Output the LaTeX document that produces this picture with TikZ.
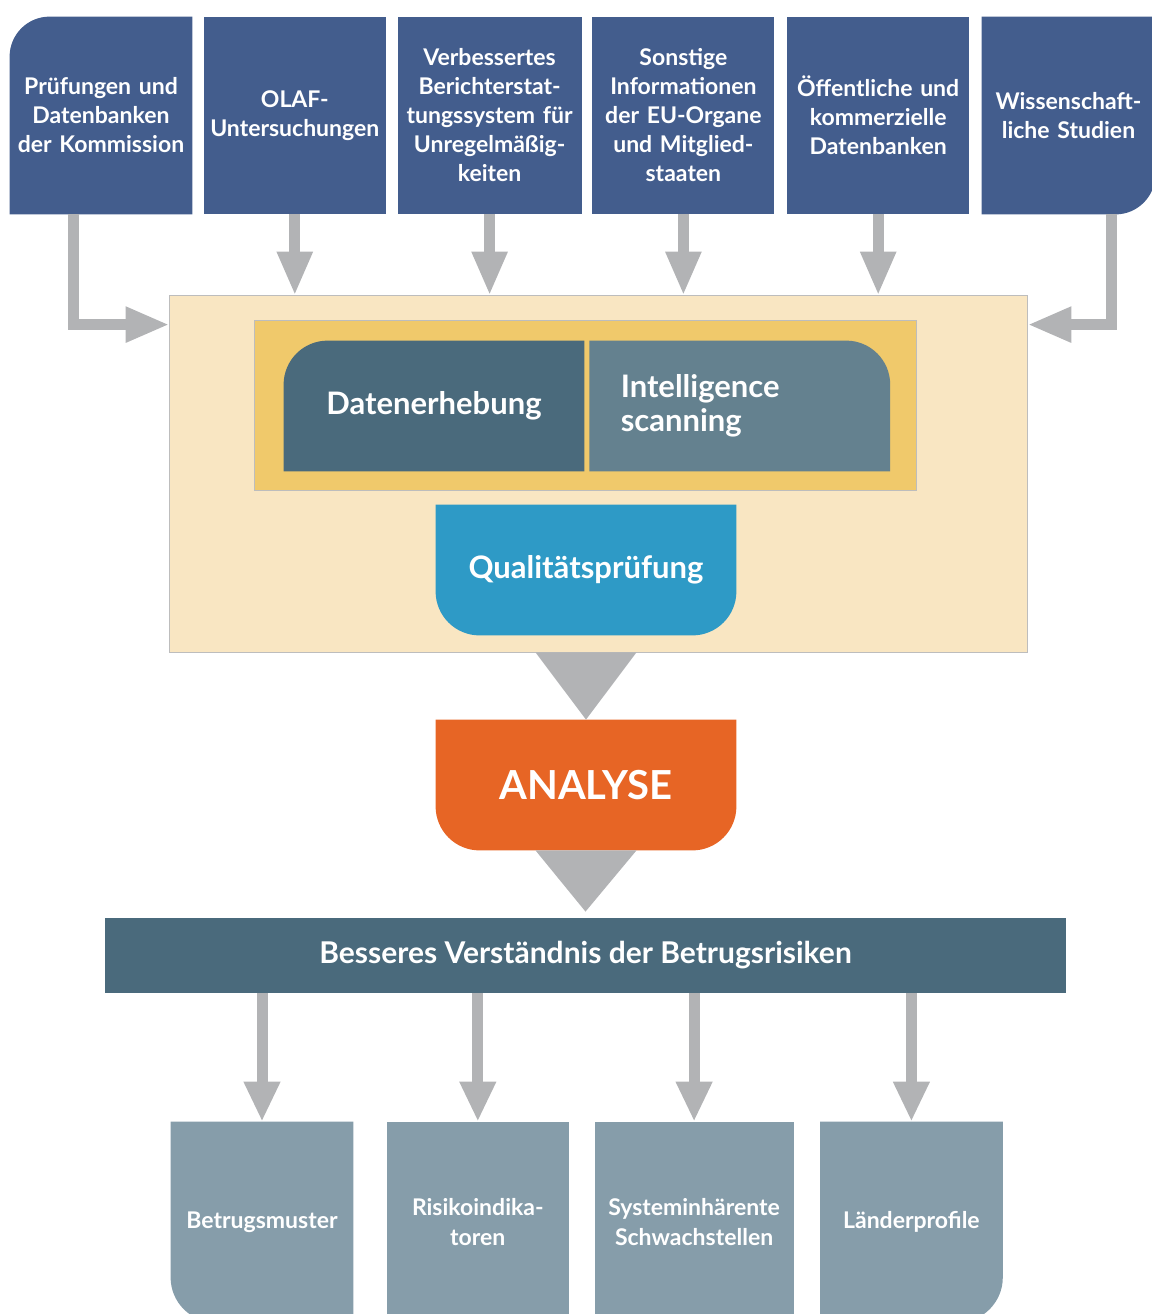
\documentclass[tikz,border=0pt]{standalone}
\usepackage{fontspec}
\setmainfont{Lato}
\usetikzlibrary{positioning}
\usetikzlibrary{arrows.meta}
\usetikzlibrary{backgrounds}
\definecolor{srcblue}{HTML}{435D8D}
\definecolor{arrowgrey}{HTML}{B2B3B5}
\definecolor{framecream}{HTML}{F9E6C2}
\definecolor{framegold}{HTML}{F0C96B}
\definecolor{slatedark}{HTML}{4A6A7C}
\definecolor{slatemid}{HTML}{64818F}
\definecolor{qualiblue}{HTML}{2E9AC6}
\definecolor{anaorange}{HTML}{E76525}
\definecolor{outgrey}{HTML}{869DAA}
\definecolor{edgegrey}{HTML}{BDBDBD}

\begin{document}
\begin{tikzpicture}[x=0.5pt,y=0.5pt]
\tikzset{srcbox/.style={rectangle,minimum width=91pt,minimum height=98.5pt,inner sep=0pt,text width=88pt,align=center,text=white,fill=srcblue,font=\fontsize{11.5}{14.5}\selectfont\bfseries}}
\tikzset{stepbox/.style={rectangle,minimum width=150pt,minimum height=65pt,inner sep=0pt,align=center,text=white,font=\fontsize{15.5}{17}\selectfont\bfseries}}
\tikzset{outbox/.style={rectangle,minimum width=91pt,minimum height=100pt,inner sep=0pt,text width=88pt,align=center,text=white,fill=outgrey,font=\fontsize{11.5}{15}\selectfont\bfseries}}
\tikzset{flow/.style={draw=arrowgrey,line width=5.5pt,-{Triangle[length=22pt,width=16.5pt]}}}
\tikzset{flowthin/.style={draw=arrowgrey,line width=5.5pt,-{Triangle[length=20pt,width=17pt]}}}
\useasboundingbox (0,0) rectangle (1152,-1314);
% sources
\node[srcbox,fill=none] (src1) at (101,-115.5) {Prüfungen und\\Datenbanken\\der Kommission};
\node[srcbox,right=5.5pt of src1] (src2) {OLAF-\\Untersuchungen};
\node[srcbox,right=5.5pt of src2,minimum width=92pt] (src3) {Verbessertes\\Berichterstat-\\tungssystem für\\Unregelmäßig-\\keiten};
\node[srcbox,right=5pt of src3] (src4) {Sonstige\\Informationen\\der EU-Organe\\und Mitglied-\\staaten};
\node[srcbox,right=6pt of src4] (src5) {Öffentliche und\\kommerzielle\\Datenbanken};
\node[srcbox,fill=none,right=6pt of src5,minimum width=86.5pt,text width=85pt] (src6) {Wissenschaft-\\liche Studien};
% collection
\node[minimum width=428.5pt,minimum height=178pt,inner sep=0pt] (frame) at (598.5,-474) {};
\node[minimum width=330.5pt,minimum height=84.5pt,inner sep=0pt] (gold) at (585.5,-405.5) {};
\node[stepbox] (daten) at (434,-406) {Datenerhebung};
\node[stepbox,right=2.5pt of daten,text width=119pt,inner xsep=15.5pt,align=left] (intel) {Intelligence\\scanning};
\node[stepbox] (quali) at (586,-570) {Qualitätsprüfung};
\node[stepbox,font=\fontsize{20}{24}\selectfont\bfseries] (ana) at (586,-785) {ANALYSE};
\node[rectangle,minimum width=480.5pt,minimum height=37.5pt,inner sep=0pt,fill=slatedark,text=white,font=\fontsize{15}{17}\selectfont\bfseries] (banner) at (585.5,-955.5) {Besseres Verständnis der Betrugsrisiken};
% results
\node[outbox,fill=none] (res1) at (262,-1222) {Betrugsmuster};
\node[outbox,right=16.5pt of res1] (res2) {Risikoindika-\\toren};
\node[outbox,right=12.5pt of res2,minimum width=99.5pt] (res3) {Systeminhärente\\Schwachstellen};
\node[outbox,fill=none,right=13pt of res3] (res4) {Länderprofile};
\begin{pgfonlayer}{background}
\fill[framecream,draw=edgegrey,line width=0.6pt] (frame.south west) rectangle (frame.north east);
\fill[framegold,draw=edgegrey,line width=0.6pt] (gold.south west) rectangle (gold.north east);
\fill[srcblue] (src1.south west) -- ([yshift=-20pt]src1.north west) arc[start angle=180,end angle=90,radius=20pt] -- (src1.north east) -- (src1.south east) -- cycle;
\fill[srcblue] (src6.north west) -- (src6.north east) -- ([yshift=20pt]src6.south east) arc[start angle=0,end angle=-90,radius=20pt] -- (src6.south west) -- cycle;
\fill[slatedark] (daten.south west) -- ([yshift=-22pt]daten.north west) arc[start angle=180,end angle=90,radius=22pt] -- (daten.north east) -- (daten.south east) -- cycle;
\fill[slatemid] (intel.south west) -- (intel.north west) -- ([xshift=-22pt]intel.north east) arc[start angle=90,end angle=0,radius=22pt] -- (intel.south east) -- cycle;
\fill[qualiblue] (quali.north west) -- (quali.north east) -- ([yshift=22pt]quali.south east) arc[start angle=0,end angle=-90,radius=22pt] -- ([xshift=22pt]quali.south west) arc[start angle=270,end angle=180,radius=22pt] -- cycle;
\fill[anaorange] (ana.north west) -- (ana.north east) -- ([yshift=22pt]ana.south east) arc[start angle=0,end angle=-90,radius=22pt] -- ([xshift=22pt]ana.south west) arc[start angle=270,end angle=180,radius=22pt] -- cycle;
\fill[outgrey] (res1.north west) -- (res1.north east) -- (res1.south east) -- ([xshift=22.5pt]res1.south west) arc[start angle=270,end angle=180,radius=22.5pt] -- cycle;
\fill[outgrey] (res4.north west) -- (res4.north east) -- ([yshift=22.5pt]res4.south east) arc[start angle=0,end angle=-90,radius=22.5pt] -- (res4.south west) -- cycle;
\end{pgfonlayer}
% arrows
\draw[flow] ([xshift=-14pt]src1.south) |- ([yshift=-14.5pt]frame.north west);
\draw[flow] (src2.south) -- (src2.south |- frame.north);
\draw[flow] (src3.south) -- (src3.south |- frame.north);
\draw[flow] (src4.south) -- (src4.south |- frame.north);
\draw[flow] (src5.south) -- (src5.south |- frame.north);
\draw[flow] ([xshift=21.25pt]src6.south) |- ([yshift=-14.5pt]frame.north east);
\coordinate (in1) at (ana.north |- frame.south);
\fill[arrowgrey] ([xshift=-25.25pt]in1) -- ([xshift=25.25pt]in1) -- (ana.north) -- cycle;
\fill[arrowgrey] ([xshift=-25.25pt]ana.south) -- ([xshift=25.25pt]ana.south) -- ([yshift=3pt]banner.north) -- cycle;
\draw[flowthin] (banner.south -| res1.north) -- (res1.north);
\draw[flowthin] (banner.south -| res2.north) -- (res2.north);
\draw[flowthin] (banner.south -| res3.north) -- (res3.north);
\draw[flowthin] (banner.south -| res4.north) -- (res4.north);
\end{tikzpicture}
\end{document}
